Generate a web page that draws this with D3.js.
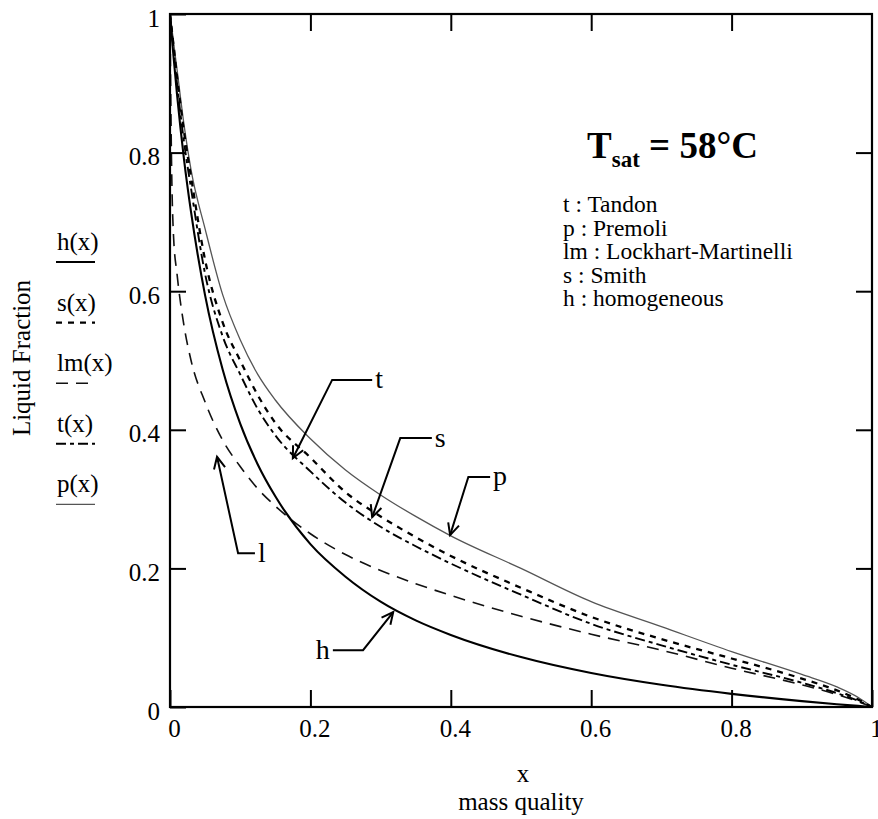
<!DOCTYPE html>
<html>
<head>
<meta charset="utf-8">
<script src="https://cdn.jsdelivr.net/npm/d3@7"></script>
<style>
  body { margin: 0; background: #fff; }
</style>
</head>
<body>
<svg id="chart" width="878" height="819"></svg>
<script>
// mass quality grid shared by every curve
var xs     = [0, 0.002, 0.005, 0.01, 0.02, 0.03, 0.05, 0.075, 0.1, 0.125, 0.15, 0.2, 0.25, 0.3, 0.35, 0.4, 0.5, 0.6, 0.7, 0.8, 0.9, 0.95, 0.98, 1];
// liquid fraction for each model
var hVals  = [1, 0.975, 0.939, 0.884, 0.790, 0.714, 0.594, 0.487, 0.409, 0.350, 0.304, 0.235, 0.188, 0.152, 0.125, 0.104, 0.072, 0.049, 0.032, 0.019, 0.0085, 0.004, 0.0016, 0];
var sVals  = [1, 0.982, 0.955, 0.91, 0.83, 0.765, 0.645, 0.555, 0.50, 0.45, 0.41, 0.36, 0.31, 0.275, 0.245, 0.218, 0.172, 0.13, 0.098, 0.07, 0.041, 0.024, 0.011, 0];
var lmVals = [1, 0.8, 0.68, 0.625, 0.55, 0.5, 0.44, 0.385, 0.347, 0.315, 0.29, 0.25, 0.22, 0.197, 0.178, 0.161, 0.131, 0.105, 0.082, 0.056, 0.032, 0.018, 0.008, 0];
var tVals  = [1, 0.98, 0.95, 0.90, 0.815, 0.748, 0.625, 0.535, 0.48, 0.43, 0.392, 0.34, 0.295, 0.26, 0.232, 0.207, 0.162, 0.12, 0.089, 0.061, 0.035, 0.02, 0.009, 0];
var pVals  = [1, 0.985, 0.96, 0.92, 0.84, 0.775, 0.69, 0.595, 0.53, 0.48, 0.443, 0.387, 0.342, 0.306, 0.275, 0.247, 0.2, 0.152, 0.116, 0.08, 0.047, 0.029, 0.014, 0];

var tickVals   = [0, 0.2, 0.4, 0.6, 0.8, 1];
var innerTicks = [0.2, 0.4, 0.6, 0.8];
var legendKeys  = ["h", "s", "lm", "t", "p"];
var legendNames = ["h(x)", "s(x)", "lm(x)", "t(x)", "p(x)"];
var keyLines = ["t : Tandon", "p : Premoli", "lm : Lockhart-Martinelli", "s : Smith", "h : homogeneous"];

// callouts: label, arrow tip on the curve, elbow and end of the leader (data units)
var callouts = [
  { label: "t", tip: [0.175, 0.359], elbow: [0.231, 0.472], end: [0.288, 0.472] },
  { label: "s", tip: [0.288, 0.274], elbow: [0.328, 0.388], end: [0.373, 0.388] },
  { label: "p", tip: [0.399, 0.248], elbow: [0.425, 0.332], end: [0.456, 0.332] },
  { label: "h", tip: [0.318, 0.137], elbow: [0.275, 0.082], end: [0.232, 0.082] },
  { label: "l", tip: [0.067, 0.361], elbow: [0.097, 0.222], end: [0.121, 0.222] }
];

var font = "'Liberation Serif', 'Times New Roman', serif";
var svg = d3.select("#chart");
svg.append("rect").attr("width", 878).attr("height", 819).attr("fill", "#fff");

var x = d3.scaleLinear().domain([0, 1]).range([170, 872]);
var y = d3.scaleLinear().domain([0, 1]).range([707, 14]);

var styles = {
  h:  { stroke: "#000", width: 2.1, dash: null },
  s:  { stroke: "#000", width: 2.3, dash: "6,6" },
  lm: { stroke: "#111", width: 1.6, dash: "12,8" },
  t:  { stroke: "#000", width: 1.9, dash: "10,4,4,4" },
  p:  { stroke: "#555", width: 1.3, dash: null }
};
var seriesVals = { h: hVals, s: sVals, lm: lmVals, t: tVals, p: pVals };

svg.append("clipPath").attr("id", "plotClip")
  .append("rect")
  .attr("x", x(0)).attr("y", y(1))
  .attr("width", x(1) - x(0)).attr("height", y(0) - y(1));

var line = d3.line()
  .x(function(d) { return x(d[0]); })
  .y(function(d) { return y(d[1]); })
  .curve(d3.curveMonotoneX);

// draw the curves, thin ones first
var curveGroup = svg.append("g").attr("clip-path", "url(#plotClip)");
["p", "lm", "t", "s", "h"].forEach(function(k) {
  var pts = xs.map(function(v, i) { return [v, seriesVals[k][i]]; });
  curveGroup.append("path")
    .datum(pts)
    .attr("d", line)
    .attr("fill", "none")
    .attr("stroke", styles[k].stroke)
    .attr("stroke-width", styles[k].width)
    .attr("stroke-dasharray", styles[k].dash)
    .attr("stroke-linecap", "butt");
});

// axes, ticks pointing inward
function styleAxis(g) {
  g.select(".domain").remove();
  g.attr("font-family", font).attr("font-size", 25).attr("color", "#000");
  g.selectAll(".tick line").attr("stroke-width", 2);
}
svg.append("g")
  .attr("transform", "translate(" + x(0) + ",0)")
  .call(d3.axisLeft(y).tickValues(tickVals).tickSizeInner(-16).tickSizeOuter(0)
    .tickPadding(10).tickFormat(d3.format("~g")))
  .call(styleAxis)
  .selectAll("text").attr("dy", "0.48em");

svg.append("g")
  .attr("transform", "translate(0," + y(0) + ")")
  .call(d3.axisBottom(x).tickValues(tickVals).tickSizeInner(-17).tickSizeOuter(0)
    .tickPadding(12).tickFormat(d3.format("~g")))
  .call(styleAxis)
  .selectAll("text").attr("dx", 4);

svg.append("g")
  .attr("transform", "translate(" + x(1) + ",0)")
  .call(d3.axisRight(y).tickValues(innerTicks).tickSizeInner(-16).tickSizeOuter(0).tickFormat(""))
  .call(styleAxis);

svg.append("g")
  .attr("transform", "translate(0," + y(1) + ")")
  .call(d3.axisTop(x).tickValues(innerTicks).tickSizeInner(-17).tickSizeOuter(0).tickFormat(""))
  .call(styleAxis);

// frame
svg.append("rect")
  .attr("x", x(0)).attr("y", y(1))
  .attr("width", x(1) - x(0)).attr("height", y(0) - y(1))
  .attr("fill", "none").attr("stroke", "#000").attr("stroke-width", 2.2);

// axis titles
svg.append("text")
  .attr("transform", "translate(30,358) rotate(-90)")
  .attr("text-anchor", "middle")
  .attr("font-family", font).attr("font-size", 25)
  .text("Liquid Fraction");
svg.append("text")
  .attr("x", 523).attr("y", 782)
  .attr("text-anchor", "middle")
  .attr("font-family", font).attr("font-size", 25)
  .text("x");
svg.append("text")
  .attr("x", 521).attr("y", 810)
  .attr("text-anchor", "middle")
  .attr("font-family", font).attr("font-size", 25)
  .text("mass quality");

// left legend: function names with a sample of each line style
legendKeys.forEach(function(k, i) {
  var by = 250 + i * 60.6;
  svg.append("text")
    .attr("x", 57).attr("y", by)
    .attr("font-family", font).attr("font-size", 25)
    .text(legendNames[i]);
  svg.append("line")
    .attr("x1", 56).attr("x2", 95)
    .attr("y1", by + 12).attr("y2", by + 12)
    .attr("stroke", styles[k].stroke)
    .attr("stroke-width", styles[k].width)
    .attr("stroke-dasharray", styles[k].dash);
});

// title block in upper right
var title = svg.append("text")
  .attr("x", 587).attr("y", 158)
  .attr("font-family", font).attr("font-weight", "bold").attr("font-size", 37);
title.append("tspan").text("T");
title.append("tspan").attr("font-size", 23).attr("dy", 9).text("sat");
title.append("tspan").attr("dy", -9).text(" = 58°C");

keyLines.forEach(function(s, i) {
  svg.append("text")
    .attr("x", 563).attr("y", 212 + i * 23.5)
    .attr("font-family", font).attr("font-size", 23.5)
    .text(s);
});

// callout arrows
callouts.forEach(function(c) {
  var tip = [x(c.tip[0]), y(c.tip[1])];
  var elb = [x(c.elbow[0]), y(c.elbow[1])];
  var end = [x(c.end[0]), y(c.end[1])];
  svg.append("path")
    .attr("d", "M" + end + "L" + elb + "L" + tip)
    .attr("fill", "none").attr("stroke", "#000").attr("stroke-width", 2);
  var ang = Math.atan2(tip[1] - elb[1], tip[0] - elb[0]);
  var len = 13, spread = 0.45;
  var a1 = [tip[0] - len * Math.cos(ang - spread), tip[1] - len * Math.sin(ang - spread)];
  var a2 = [tip[0] - len * Math.cos(ang + spread), tip[1] - len * Math.sin(ang + spread)];
  svg.append("path")
    .attr("d", "M" + a1 + "L" + tip + "L" + a2)
    .attr("fill", "none").attr("stroke", "#000").attr("stroke-width", 2);
  var right = end[0] > elb[0];
  svg.append("text")
    .attr("x", right ? end[0] + 3 : end[0] - 3)
    .attr("y", end[1])
    .attr("dy", "0.3em")
    .attr("text-anchor", right ? "start" : "end")
    .attr("font-family", font).attr("font-size", 28)
    .text(c.label);
});
</script>
</body>
</html>
